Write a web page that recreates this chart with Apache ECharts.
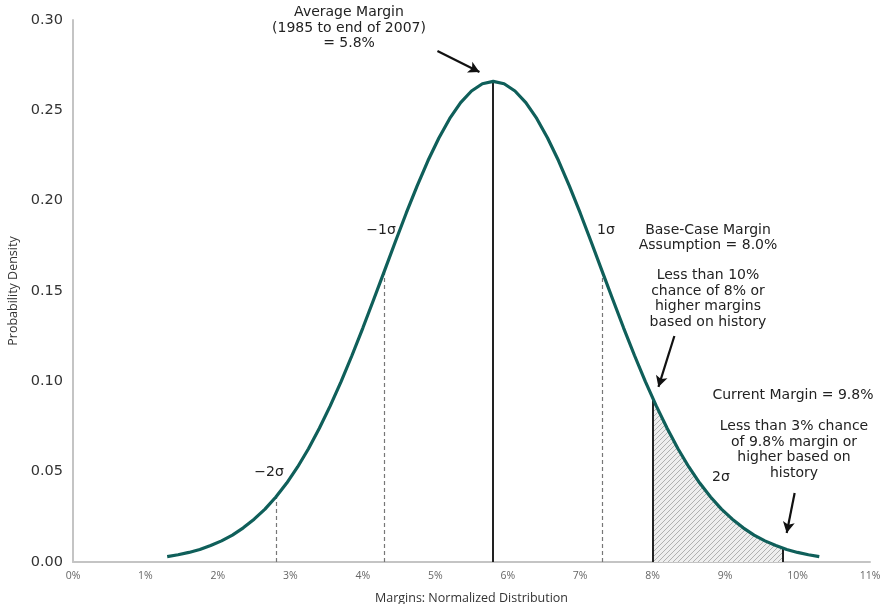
<!DOCTYPE html>
<html>
<head>
<meta charset="utf-8">
<script src="https://cdn.jsdelivr.net/npm/echarts@6/dist/echarts.min.js"></script>
<style>html,body{margin:0;padding:0;background:#fff}#c{width:880px;height:604px}</style>
</head>
<body>
<div id="c"></div>
<script>
// Margin (%) sample points and read-off probability density
var marginX = [1.3,1.45,1.6,1.75,1.9,2.05,2.2,2.35,2.5,2.65,2.8,2.95,3.1,3.25,3.4,3.55,3.7,3.85,4.0,4.15,4.3,4.45,4.6,4.75,4.9,5.05,5.2,5.35,5.5,5.65,5.8,5.95,6.1,6.25,6.4,6.55,6.7,6.85,7.0,7.15,7.3,7.45,7.6,7.75,7.9,8.05,8.2,8.35,8.5,8.65,8.8,8.95,9.1,9.25,9.4,9.55,9.7,9.85,10.0,10.15,10.3];
var density = [0.0030,0.0040,0.0053,0.0069,0.0091,0.0117,0.0149,0.0189,0.0237,0.0293,0.0360,0.0437,0.0526,0.0627,0.0740,0.0864,0.0998,0.1143,0.1295,0.1453,0.1613,0.1774,0.1932,0.2082,0.2222,0.2347,0.2455,0.2543,0.2607,0.2647,0.2660,0.2647,0.2607,0.2543,0.2455,0.2347,0.2222,0.2082,0.1932,0.1774,0.1613,0.1453,0.1295,0.1143,0.0998,0.0864,0.0740,0.0627,0.0526,0.0437,0.0360,0.0293,0.0237,0.0189,0.0149,0.0117,0.0091,0.0069,0.0053,0.0040,0.0030];
// Shaded tail between base-case (8.0%) and current (9.8%) margin
var tailX = [8.0,8.05,8.2,8.35,8.5,8.65,8.8,8.95,9.1,9.25,9.4,9.55,9.7,9.8];
var tailY = [0.0907,0.0864,0.0740,0.0627,0.0526,0.0437,0.0360,0.0293,0.0237,0.0189,0.0149,0.0117,0.0091,0.0076];
// Reference lines: solid (mean, base case, current) and dashed (sigma)
var solidX = [5.8, 8.0, 9.8];
var solidTop = [0.2660, 0.0907, 0.0076];
var dashX = [2.8, 4.3, 7.3];
var dashTop = [0.0360, 0.1613, 0.1613];
// Annotation arrows [fromX, fromY, toX, toY]
var arrows = [[5.03,0.2828,5.61,0.2712],[8.30,0.1251,8.08,0.0969],[9.96,0.0382,9.85,0.0161]];
var xTicks = [0,1,2,3,4,5,6,7,8,9,10,11];
var yTicks = [0,0.05,0.10,0.15,0.20,0.25,0.30];

var teal = '#0f5f5a';
var font = '"DejaVu Sans", "Open Sans", sans-serif';
var font2 = '"Open Sans", Lato, sans-serif';

var pc = document.createElement('canvas');
pc.width = 5; pc.height = 5;
var g = pc.getContext('2d');
g.fillStyle = '#eeeeee'; g.fillRect(0,0,5,5);
g.strokeStyle = '#b0b0b0'; g.lineWidth = 1;
g.beginPath(); g.moveTo(-1,6); g.lineTo(6,-1); g.stroke();
g.beginPath(); g.moveTo(-1,1); g.lineTo(1,-1); g.stroke();
g.beginPath(); g.moveTo(4,6); g.lineTo(6,4); g.stroke();

var mlData = [];
solidX.forEach(function(x,i){
  mlData.push([{coord:[x,0], lineStyle:{color:'#222', width:2, type:'solid'}},{coord:[x,solidTop[i]]}]);
});
dashX.forEach(function(x,i){
  mlData.push([{coord:[x,0], lineStyle:{color:'#777', width:1.2, type:[4,3]}},{coord:[x,dashTop[i]]}]);
});
arrows.forEach(function(a){
  mlData.push([{coord:[a[0],a[1]], symbol:'none', lineStyle:{color:'#111', width:2.2, type:'solid'}},{coord:[a[2],a[3]], symbol:'arrow', symbolSize:[9,11]}]);
});

var chart = echarts.init(document.getElementById('c'));
function txt(x,y,lines,size){
  return {type:'text', x:x, y:y, z:100, style:{text:lines.join('\n'), x:0, y:0, textAlign:'center', textVerticalAlign:'middle', fill:'#222', font: (size||14)+'px '+font, lineHeight:15.5}};
}
chart.setOption({
  animation:false,
  grid:{left:73, right:10, top:20, bottom:42, outerBoundsMode:'none', containLabel:false},
  xAxis:{type:'value', min:0, max:11, interval:1,
    axisLine:{lineStyle:{color:'#c4c4c4', width:2}}, axisTick:{show:false}, splitLine:{show:false},
    axisLabel:{formatter:'{value}%', color:'#666', fontSize:10.5, fontFamily:font2, margin:9},
    name:'Margins: Normalized Distribution', nameLocation:'middle', nameGap:30,
    nameTextStyle:{color:'#333', fontSize:12.5, fontFamily:font2}},
  yAxis:{type:'value', min:0, max:0.3, interval:0.05,
    axisLine:{show:true, lineStyle:{color:'#c4c4c4', width:2}}, axisTick:{show:false}, splitLine:{show:false},
    axisLabel:{formatter:function(v){return v.toFixed(2);}, color:'#333', fontSize:14.5, fontFamily:font, margin:10},
    name:'Probability Density', nameLocation:'middle', nameGap:52,
    nameTextStyle:{color:'#333', fontSize:12.5, fontFamily:font2}},
  series:[
    {type:'line', data: tailX.map(function(x,i){return [x,tailY[i]];}), symbol:'none',
      lineStyle:{width:0}, areaStyle:{color:{image:pc, repeat:'repeat'}, opacity:1}, z:1},
    {type:'line', data: marginX.map(function(x,i){return [x,density[i]];}), symbol:'none', smooth:false,
      lineStyle:{color:teal, width:3.2}, z:3,
      markLine:{silent:true, symbol:['none','none'], label:{show:false}, animation:false, data: mlData, z:2}}
  ],
  graphic:[
    txt(349,28,['Average Margin','(1985 to end of 2007)','= 5.8%']),
    txt(708,238,['Base-Case Margin','Assumption = 8.0%']),
    txt(708,299,['Less than 10%','chance of 8% or','higher margins','based on history']),
    txt(793,395,['Current Margin = 9.8%']),
    txt(794,450,['Less than 3% chance','of 9.8% margin or','higher based on','history']),
    txt(269,472,['\u22122\u03c3']),
    txt(381,230,['\u22121\u03c3']),
    txt(606,230,['1\u03c3']),
    txt(721,477,['2\u03c3'])
  ]
});
</script>
</body>
</html>
